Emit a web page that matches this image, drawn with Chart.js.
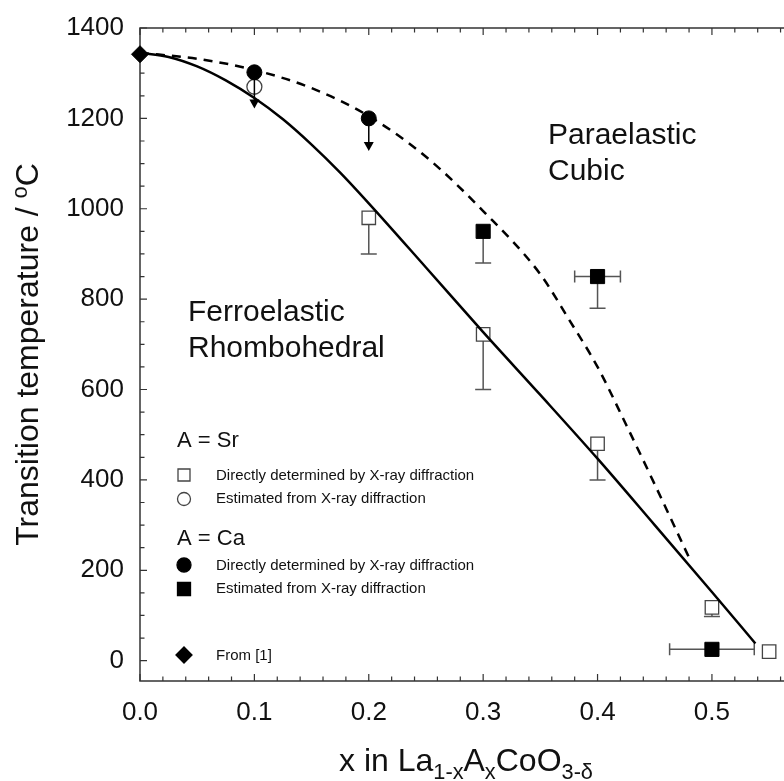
<!DOCTYPE html>
<html>
<head>
<meta charset="utf-8">
<script src="https://cdn.jsdelivr.net/npm/chart.js@4.4.1/dist/chart.umd.min.js"></script>
<style>
  html, body { margin: 0; padding: 0; background: #fff; overflow: hidden; }
  #wrap { width: 784px; height: 781px; position: relative; }
  canvas { display: block; }
</style>
</head>
<body>
<div id="wrap"><canvas id="phaseChart"></canvas></div>
<script>
// phase boundaries
const solidX = [0, 0.025, 0.05, 0.075, 0.1, 0.125, 0.15, 0.175, 0.2, 0.25, 0.3, 0.35, 0.4, 0.45, 0.5, 0.538];
const solidY = [1345, 1336, 1315, 1284, 1245, 1198, 1142, 1080, 1012, 870, 727, 588, 447, 300, 152, 38];
const dashX = [0, 0.05, 0.1, 0.15, 0.2, 0.25, 0.3, 0.35, 0.375, 0.4, 0.425, 0.45, 0.48];
const dashY = [1345, 1332, 1307, 1267, 1205, 1115, 995, 855, 755, 650, 522, 390, 228];

// A = Sr
const srDirectX = [0.2, 0.3, 0.4, 0.5, 0.55];
const srDirectY = [980, 722, 480, 118, 20];
const srDirectLow = [900, 600, 400, 98, null];
const srEstX = [0.1];
const srEstY = [1270];

// A = Ca
const caDirectX = [0.1, 0.2];
const caDirectY = [1302, 1200];
const caDirectArrowTo = [1222, 1128];
const caEstX = [0.3, 0.4, 0.5];
const caEstY = [950, 850, 25];
const caEstLow = [880, 780, null];
const caEstXErr = [null, 0.02, 0.037];

// from [1]
const refX = [0];
const refY = [1342];

const FONT = "'Liberation Sans', Arial, sans-serif";
const INK = '#111';

const pts = (xs, ys) => xs.map((v, i) => ({ x: v, y: ys[i] }));

function marker(ctx, kind, x, y, s, filled) {
  ctx.beginPath();
  if (kind === 'square') ctx.rect(x - s, y - s, 2 * s, 2 * s);
  else if (kind === 'circle') ctx.arc(x, y, s, 0, Math.PI * 2);
  else if (kind === 'diamond') {
    ctx.moveTo(x - s, y); ctx.lineTo(x, y - s); ctx.lineTo(x + s, y); ctx.lineTo(x, y + s); ctx.closePath();
  }
  ctx.fillStyle = filled ? '#000' : '#fff';
  ctx.fill();
  ctx.lineWidth = 1.3;
  ctx.strokeStyle = filled ? '#000' : '#444';
  ctx.stroke();
}

// draws text parts [text, 'n'|'sub'|'sup'] starting at x, baseline y
function richText(ctx, parts, size, x, y, measureOnly) {
  let w = 0;
  parts.forEach(([t, k]) => {
    const fs = k === 'n' ? size : size * 0.68;
    ctx.font = fs + 'px ' + FONT;
    const dy = k === 'sub' ? size * 0.25 : k === 'sup' ? -size * 0.35 : 0;
    if (!measureOnly) ctx.fillText(t, x + w, y + dy);
    w += ctx.measureText(t).width;
  });
  return w;
}

const extras = {
  id: 'extras',
  beforeDatasetsDraw(chart) {
    const { ctx, chartArea: a, scales: { x, y } } = chart;
    ctx.save();
    // frame (left, top, bottom)
    ctx.strokeStyle = '#333';
    ctx.lineWidth = 1.5;
    ctx.beginPath();
    ctx.moveTo(a.right, a.top); ctx.lineTo(a.left, a.top);
    ctx.lineTo(a.left, a.bottom); ctx.lineTo(a.right, a.bottom);
    ctx.stroke();
    // inward ticks
    ctx.lineWidth = 1.2;
    ctx.beginPath();
    for (let v = 0; v <= x.max + 1e-9; v += 0.02) {
      const px = x.getPixelForValue(v);
      const major = Math.abs(v * 10 - Math.round(v * 10)) < 1e-6;
      const len = major ? 7 : 4.5;
      ctx.moveTo(px, a.bottom); ctx.lineTo(px, a.bottom - len);
      ctx.moveTo(px, a.top); ctx.lineTo(px, a.top + len);
    }
    for (let v = 0; v <= y.max; v += 50) {
      const py = y.getPixelForValue(v);
      const len = v % 200 === 0 ? 7 : 4.5;
      ctx.moveTo(a.left, py); ctx.lineTo(a.left + len, py);
    }
    ctx.stroke();

    // error bars
    ctx.strokeStyle = '#555';
    ctx.lineWidth = 1.5;
    ctx.beginPath();
    const vbar = (xv, yv, lo) => {
      const px = x.getPixelForValue(xv), p0 = y.getPixelForValue(yv), p1 = y.getPixelForValue(lo);
      ctx.moveTo(px, p0); ctx.lineTo(px, p1);
      ctx.moveTo(px - 8, p1); ctx.lineTo(px + 8, p1);
    };
    srDirectX.forEach((v, i) => { if (srDirectLow[i] != null) vbar(v, srDirectY[i], srDirectLow[i]); });
    caEstX.forEach((v, i) => {
      if (caEstLow[i] != null) vbar(v, caEstY[i], caEstLow[i]);
      if (caEstXErr[i] != null) {
        const py = y.getPixelForValue(caEstY[i]);
        const l = x.getPixelForValue(v - caEstXErr[i]), r = x.getPixelForValue(v + caEstXErr[i]);
        ctx.moveTo(l, py); ctx.lineTo(r, py);
        ctx.moveTo(l, py - 6); ctx.lineTo(l, py + 6);
        ctx.moveTo(r, py - 6); ctx.lineTo(r, py + 6);
      }
    });
    ctx.stroke();
    ctx.restore();
  },
  afterDatasetsDraw(chart) {
    const { ctx, scales: { x, y } } = chart;
    ctx.save();
    ctx.strokeStyle = '#000';
    ctx.fillStyle = '#000';
    ctx.lineWidth = 1.5;
    caDirectX.forEach((v, i) => {
      const px = x.getPixelForValue(v);
      const p0 = y.getPixelForValue(caDirectY[i]) + 7;
      const p1 = y.getPixelForValue(caDirectArrowTo[i]);
      ctx.beginPath();
      ctx.moveTo(px, p0); ctx.lineTo(px, p1 - 7);
      ctx.stroke();
      ctx.beginPath();
      ctx.moveTo(px - 5, p1 - 9); ctx.lineTo(px + 5, p1 - 9); ctx.lineTo(px, p1); ctx.closePath();
      ctx.fill();
    });
    ctx.restore();
  },
  afterDraw(chart) {
    const { ctx, chartArea: a } = chart;
    ctx.save();
    ctx.fillStyle = INK;
    ctx.textBaseline = 'middle';
    ctx.textAlign = 'left';

    // region labels
    ctx.font = '30px ' + FONT;
    ctx.fillText('Ferroelastic', 188, 313);
    ctx.fillText('Rhombohedral', 188, 349);
    ctx.fillText('Paraelastic', 548, 136);
    ctx.fillText('Cubic', 548, 172);

    // legend
    ctx.font = '22px ' + FONT;
    ctx.fillText('A = Sr', 177, 441);
    ctx.fillText('A = Ca', 177, 539);
    marker(ctx, 'square', 184, 475, 6, false);
    marker(ctx, 'circle', 184, 499, 6.5, false);
    marker(ctx, 'circle', 184, 565, 7, true);
    marker(ctx, 'square', 184, 589, 6.5, true);
    marker(ctx, 'diamond', 184, 655, 8, true);
    ctx.fillStyle = INK;
    ctx.font = '15px ' + FONT;
    ctx.fillText('Directly determined by X-ray diffraction', 216, 476);
    ctx.fillText('Estimated from X-ray diffraction', 216, 499);
    ctx.fillText('Directly determined by X-ray diffraction', 216, 566);
    ctx.fillText('Estimated from X-ray diffraction', 216, 589);
    ctx.fillText('From [1]', 216, 656);

    // axis titles
    ctx.textBaseline = 'alphabetic';
    const xt = [['x in La', 'n'], ['1-x', 'sub'], ['A', 'n'], ['x', 'sub'], ['CoO', 'n'], ['3-δ', 'sub']];
    const xw = richText(ctx, xt, 32, 0, 0, true);
    richText(ctx, xt, 32, 466 - xw / 2, 771, false);

    const yt = [['Transition temperature / ', 'n'], ['o', 'sup'], ['C', 'n']];
    ctx.translate(38, (a.top + a.bottom) / 2);
    ctx.rotate(-Math.PI / 2);
    const yw = richText(ctx, yt, 32, 0, 0, true);
    richText(ctx, yt, 32, -yw / 2, 0, false);
    ctx.restore();
  }
};

new Chart(document.getElementById('phaseChart').getContext('2d'), {
  type: 'scatter',
  data: {
    datasets: [
      {
        label: 'boundary (Sr)',
        type: 'line',
        data: pts(solidX, solidY),
        borderColor: '#000',
        borderWidth: 2.5,
        pointRadius: 0,
        cubicInterpolationMode: 'monotone',
        fill: false,
        clip: false
      },
      {
        label: 'boundary (Ca)',
        type: 'line',
        data: pts(dashX, dashY),
        borderColor: '#000',
        borderWidth: 2.5,
        borderDash: [9, 7],
        pointRadius: 0,
        cubicInterpolationMode: 'monotone',
        fill: false,
        clip: false
      },
      {
        label: 'From [1]',
        data: pts(refX, refY),
        pointStyle: 'rectRot',
        pointRadius: 8.5,
        backgroundColor: '#000',
        borderColor: '#000',
        clip: false
      },
      {
        label: 'Ca directly determined',
        data: pts(caDirectX, caDirectY),
        pointStyle: 'circle',
        pointRadius: 7.5,
        backgroundColor: '#000',
        borderColor: '#000',
        clip: false
      },
      {
        label: 'Ca estimated',
        data: pts(caEstX, caEstY),
        pointStyle: 'rect',
        pointRadius: 10,
        backgroundColor: '#000',
        borderColor: '#000',
        clip: false
      },
      {
        label: 'Sr estimated',
        data: pts(srEstX, srEstY),
        pointStyle: 'circle',
        pointRadius: 7.5,
        backgroundColor: 'rgba(255,255,255,0)',
        borderColor: '#444',
        borderWidth: 1.3,
        clip: false
      },
      {
        label: 'Sr directly determined',
        data: pts(srDirectX, srDirectY),
        pointStyle: 'rect',
        pointRadius: 9.5,
        backgroundColor: '#fff',
        borderColor: '#444',
        borderWidth: 1.3,
        clip: false
      }
    ]
  },
  options: {
    responsive: true,
    maintainAspectRatio: false,
    animation: false,
    events: [],
    layout: { autoPadding: false, padding: { top: 28, right: 0, left: 0, bottom: 0 } },
    plugins: { legend: { display: false }, tooltip: { enabled: false } },
    scales: {
      x: {
        type: 'linear',
        min: 0,
        max: 0.563,
        afterFit: s => { s.height = 100; },
        grid: { display: false, drawTicks: false },
        border: { display: false },
        ticks: {
          stepSize: 0.1,
          includeBounds: false,
          padding: 16,
          color: INK,
          font: { family: FONT, size: 26 },
          maxRotation: 0,
          callback: v => v.toFixed(1)
        }
      },
      y: {
        type: 'linear',
        min: -45,
        max: 1400,
        afterFit: s => { s.width = 140; s.paddingTop = 0; s.paddingBottom = 0; },
        grid: { display: false, drawTicks: false },
        border: { display: false },
        ticks: {
          stepSize: 200,
          includeBounds: false,
          padding: 16,
          color: INK,
          font: { family: FONT, size: 26 },
          callback: v => String(v)
        }
      }
    }
  },
  plugins: [extras]
});
</script>
</body>
</html>
